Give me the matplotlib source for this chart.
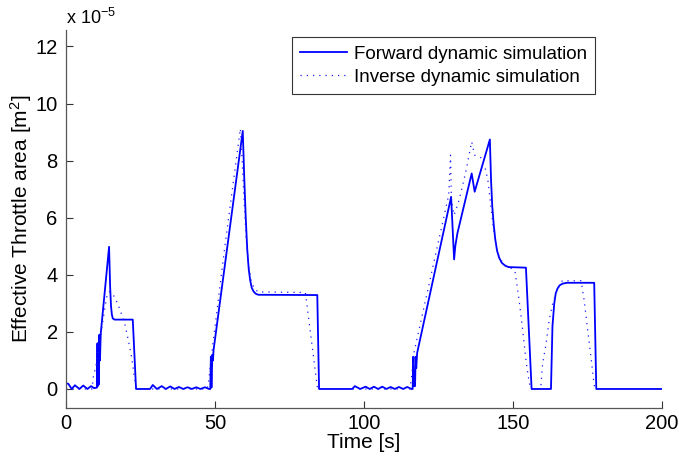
import matplotlib
matplotlib.use("Agg")
import matplotlib.pyplot as plt

plt.rcParams['font.family'] = ['Liberation Sans', 'DejaVu Sans']
plt.rcParams['mathtext.fontset'] = 'custom'
plt.rcParams['mathtext.rm'] = 'Liberation Sans'
plt.rcParams['mathtext.it'] = 'Liberation Sans:italic'

# ---- data (values in units of 1e-5 m^2) ----
t_fwd = [0, 0.8, 1.9, 3.0, 4.5, 5.8, 7.2, 8.4, 9.4, 10.4,
         10.55, 10.65, 10.8, 10.95, 11.2, 11.4, 11.66, 14.45, 14.8, 15.1, 15.4,
         15.7, 16.3,
         22.4, 23.5, 28.2,
         29.1, 30.5, 32.1, 33.5, 35.0, 36.4, 37.9, 39.3, 40.8, 42.2, 43.7, 45.1,
         46.6, 48.0, 48.4, 48.6, 48.8, 49.1, 49.3, 49.5, 59.3, 59.8, 60.3, 60.8,
         61.3, 61.8, 62.3, 62.9, 63.6, 64.5, 84.3, 84.9, 96.0,
         96.9, 98.7, 100.5, 101.9, 103.3, 104.7, 106.1, 107.5, 108.9, 110.3,
         111.7, 113.1, 114.5, 115.9, 116.3, 116.5, 116.7, 117.1, 117.3, 117.5,
         117.8, 129.2, 130.2, 130.6, 131.3, 136.1, 137.1, 142.2, 142.6, 143.0,
         143.5, 144.0, 144.6, 145.3, 146.2, 147.3, 148.5, 154.3, 156.2, 162.7,
         163.2, 163.8, 164.3, 164.9, 165.6, 166.6, 168.0, 177.2, 177.9, 200.0]
v_fwd = [0.2, 0.18, 0.0, 0.13, 0.0, 0.12, 0.0, 0.1, 0.03, 0.05,
         1.6, 0.1, 1.6, 0.15, 1.9, 1.0, 1.95, 4.98, 3.6, 2.9, 2.6,
         2.47, 2.43,
         2.43, 0.0, 0.0,
         0.14, 0.0, 0.1, 0.0, 0.09, 0.0, 0.07, 0.0, 0.06, 0.0, 0.06, 0.0,
         0.06, 0.0, 0.0, 1.13, 0.05, 1.2, 1.0, 1.36, 9.04, 7.4, 6.0, 4.9,
         4.2, 3.8, 3.55, 3.42, 3.34, 3.3, 3.29, 0.0, 0.0,
         0.1, 0.0, 0.08, 0.0, 0.08, 0.0, 0.08, 0.0, 0.07, 0.0,
         0.07, 0.0, 0.07, 0.0, 0.0, 1.13, 0.1, 0.1, 1.13, 0.73,
         1.26, 6.73, 4.54, 5.0, 5.45, 7.55, 6.91, 8.74, 7.3, 6.4,
         5.75, 5.25, 4.85, 4.6, 4.42, 4.32, 4.27, 4.25, 0.0, 0.0,
         2.2, 3.0, 3.35, 3.52, 3.63, 3.69, 3.72, 3.72, 0.0, 0.0]

t_inv = [0, 8.7, 9.2, 10.1, 10.8, 11.6, 12.4, 13.2, 13.9, 14.55, 15.5, 16.5,
         18.15, 19.8, 20.9, 22.1, 22.9, 23.6, 47.3, 47.8, 48.6, 53.3, 58.5,
         59.1, 59.8, 60.5, 61.3, 62.2, 63.3, 64.5, 80.3, 84.3, 84.8, 115.3, 115.8,
         116.8, 128.4, 129.0, 129.3, 130.2, 131.9, 134.1, 136.1, 137.1, 139.2,
         140.8, 141.6, 142.5, 143.4, 144.3, 145.4, 147.0, 149.0, 150.6, 152.0,
         153.2, 154.3, 155.1, 155.8, 158.8, 159.3, 159.9, 161.0, 162.1, 163.3,
         164.9, 166.5, 172.8, 173.9, 175.0, 176.1, 177.0, 177.4, 200.0]
v_inv = [0.0, 0.0, 0.43, 0.84, 1.3, 1.85, 2.4, 2.95, 3.35, 3.41, 3.35, 3.18,
         2.77, 2.24, 1.71, 1.07, 0.43, 0.0, 0.0, 0.2, 1.0, 5.0, 9.12,
         8.0, 6.5, 5.2, 4.3, 3.75, 3.5, 3.4, 3.38, 0.08, 0.0, 0.0, 0.3,
         1.3, 6.8, 8.19, 6.62, 6.09, 6.62, 7.6, 8.66, 8.19, 8.1,
         7.67, 7.26, 6.44, 5.6, 5.0, 4.6, 4.35, 4.25, 4.14, 3.12,
         2.07, 1.01, 0.43, 0.0, 0.0, 0.08, 0.9, 1.54, 2.42, 3.0,
         3.5, 3.79, 3.79, 3.06, 2.07, 1.13, 0.31, 0.0, 0.0]

x_ticks = [0, 50, 100, 150, 200]
y_ticks = [0, 2, 4, 6, 8, 10, 12]

fig = plt.figure(figsize=(6.79, 4.57), dpi=100)
ax = fig.add_axes([0.0972, 0.107, 0.878, 0.827])

ax.plot(t_fwd, v_fwd, color=(0, 0, 1), lw=1.3, label='Forward dynamic simulation')
ax.plot(t_inv, v_inv, color=(0.1, 0.1, 1), lw=0.9, linestyle=(0, (1, 4)),
        label='Inverse dynamic simulation')

ax.set_xlim(0, 200)
ax.set_ylim(-0.67, 12.57)
ax.set_xticks(x_ticks)
ax.set_yticks(y_ticks)
ax.tick_params(direction='in', length=5, width=0.8, colors='#333333',
               labelsize=14.5, labelcolor='black')
ax.tick_params(axis='y', pad=6)
ax.tick_params(axis='x', pad=4)
for s in ['top', 'right']:
    ax.spines[s].set_visible(False)
for s in ['left', 'bottom']:
    ax.spines[s].set_color('#555555')
    ax.spines[s].set_linewidth(0.9)

ax.set_xlabel('Time [s]', fontsize=15, labelpad=0)
ax.set_ylabel('Effective Throttle area [m$^2$]', fontsize=15, labelpad=1)

fig.text(0.0972, 0.948, 'x 10$^{-5}$', fontsize=13, ha='left', va='baseline')

leg = ax.legend(loc='upper left', bbox_to_anchor=(0.379, 0.981), borderaxespad=0,
                fontsize=13.5, frameon=True, fancybox=False, handlelength=2.5,
                handletextpad=0.35, borderpad=0.45, labelspacing=0.3)
leg.get_frame().set_edgecolor('black')
leg.get_frame().set_linewidth(0.8)

fig.savefig('out.png', dpi=100)
